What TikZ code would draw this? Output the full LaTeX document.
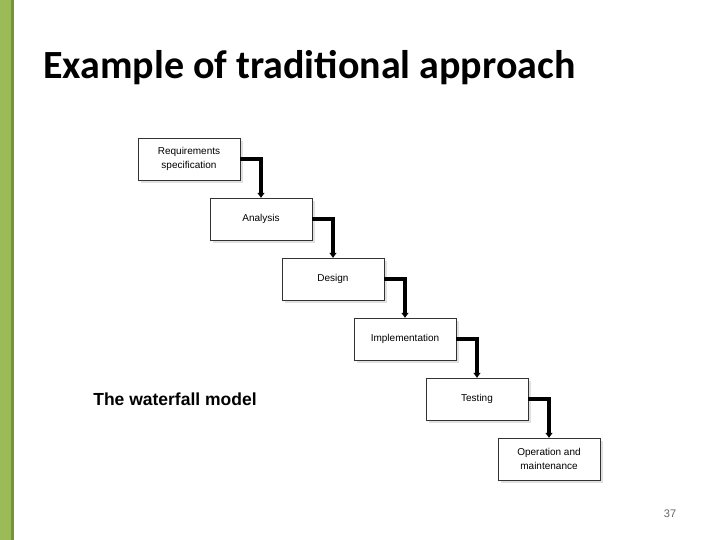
\documentclass[tikz,border=0pt]{standalone}
\usepackage{fontspec}
\setmainfont{Liberation Sans}
\newfontfamily\titlefont{Carlito}
\usetikzlibrary{arrows.meta}
\definecolor{barg}{HTML}{9BBB59}
\definecolor{bard}{HTML}{77933C}
\begin{document}
\begin{tikzpicture}[x=1pt,y=-1pt,
  stepbox/.style={draw=black!80,fill=white,minimum width=102pt,minimum height=42pt,align=center,font=\fontsize{10}{14}\selectfont,inner sep=1pt},
  shadowbox/.style={fill=black!12,minimum width=102pt,minimum height=42pt},
  conn/.style={line width=3.5pt,-{Triangle[length=5pt,width=7pt]}}]
\useasboundingbox (0,0) rectangle (720,540);
\fill[white] (0,0) rectangle (720,540);
\fill[barg] (0,0) rectangle (11,540);
\fill[bard] (11,0) rectangle (14,540);
\node[anchor=west,inner sep=0pt,font=\titlefont\fontsize{40}{44}\selectfont\bfseries] (title) at (43,68) {Example of traditional approach};
\foreach \i/\n/\t in {0/a/{Requirements\\specification},1/b/Analysis,2/c/Design,3/d/Implementation,4/e/Testing,5/f/{Operation and\\maintenance}}{
  \node[shadowbox] at (189+72*\i+3,159+60*\i+3) {};
  \node[stepbox] (\n) at (189+72*\i,159+60*\i) {\t};
}
\foreach \p/\q in {a/b,b/c,c/d,d/e,e/f}{
  \draw[conn] (\p.east) -| (\q.north);
}
\node[font=\bfseries\fontsize{17.5}{20}\selectfont] (wm) at (175,399) {The waterfall model};
\node[font=\fontsize{11}{13}\selectfont,text=black!60] (pg) at (670,514) {37};
\end{tikzpicture}
\end{document}
